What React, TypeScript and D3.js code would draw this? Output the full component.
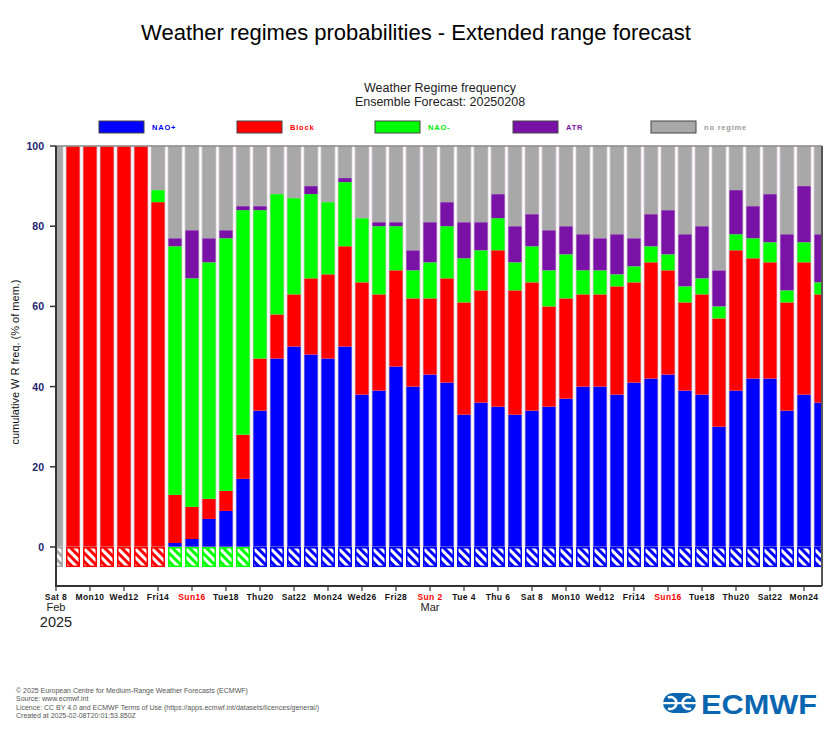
import React from "react";
import * as d3 from "d3";

// ---------- DATA ----------
const dates: string[] = [
  "2025-02-08","2025-02-09","2025-02-10","2025-02-11","2025-02-12","2025-02-13","2025-02-14",
  "2025-02-15","2025-02-16","2025-02-17","2025-02-18","2025-02-19","2025-02-20","2025-02-21",
  "2025-02-22","2025-02-23","2025-02-24","2025-02-25","2025-02-26","2025-02-27","2025-02-28",
  "2025-03-01","2025-03-02","2025-03-03","2025-03-04","2025-03-05","2025-03-06","2025-03-07",
  "2025-03-08","2025-03-09","2025-03-10","2025-03-11","2025-03-12","2025-03-13","2025-03-14",
  "2025-03-15","2025-03-16","2025-03-17","2025-03-18","2025-03-19","2025-03-20","2025-03-21",
  "2025-03-22","2025-03-23","2025-03-24","2025-03-25",
];

const naoPlus: number[] = [
  0, 0, 0, 0, 0, 0, 0, 1, 2, 7, 9, 17, 34, 47, 50, 48, 47, 50, 38, 39, 45, 40, 43,
  41, 33, 36, 35, 33, 34, 35, 37, 40, 40, 38, 41, 42, 43, 39, 38, 30, 39, 42, 42, 34, 38, 36,
];
const block: number[] = [
  0, 100, 100, 100, 100, 100, 86, 12, 8, 5, 5, 11, 13, 11, 13, 19, 21, 25, 28, 24, 24, 22, 19,
  26, 28, 28, 39, 31, 32, 25, 25, 23, 23, 27, 25, 29, 26, 22, 25, 27, 35, 30, 29, 27, 33, 27,
];
const naoMinus: number[] = [
  0, 0, 0, 0, 0, 0, 3, 62, 57, 59, 63, 56, 37, 30, 24, 21, 18, 16, 16, 17, 11, 7, 9,
  13, 11, 10, 8, 7, 9, 9, 11, 6, 6, 3, 4, 4, 4, 4, 4, 3, 4, 5, 5, 3, 5, 3,
];
const atr: number[] = [
  0, 0, 0, 0, 0, 0, 0, 2, 12, 6, 2, 1, 1, 0, 0, 2, 0, 1, 0, 1, 1, 5, 10,
  6, 9, 7, 6, 9, 8, 10, 7, 9, 8, 10, 7, 8, 11, 13, 13, 9, 11, 8, 12, 14, 14, 12,
];
// regime of the hatched strip below zero
const stripRegime: string[] = [
  "noRegime","block","block","block","block","block","block",
  "naoMinus","naoMinus","naoMinus","naoMinus","naoMinus",
  "naoPlus","naoPlus","naoPlus","naoPlus","naoPlus","naoPlus","naoPlus","naoPlus","naoPlus",
  "naoPlus","naoPlus","naoPlus","naoPlus","naoPlus","naoPlus","naoPlus","naoPlus","naoPlus",
  "naoPlus","naoPlus","naoPlus","naoPlus","naoPlus","naoPlus","naoPlus","naoPlus","naoPlus",
  "naoPlus","naoPlus","naoPlus","naoPlus","naoPlus","naoPlus","naoPlus",
];

const regimeKeys = ["naoPlus", "block", "naoMinus", "atr", "noRegime"];
const regimeLabels = ["NAO+", "Block", "NAO-", "ATR", "no regime"];
const regimeColors = ["#0000ff", "#ff0000", "#00ff00", "#7a12a8", "#a8a8a8"];
const labelColors = ["#0000ff", "#ff0000", "#00ee00", "#7a12a8", "#9a9a9a"];

const xTickLabels: string[] = [
  "Sat 8","Mon10","Wed12","Fri14","Sun16","Tue18","Thu20","Sat22","Mon24","Wed26","Fri28",
  "Sun 2","Tue 4","Thu 6","Sat 8","Mon10","Wed12","Fri14","Sun16","Tue18","Thu20","Sat22","Mon24",
];
const yTicks: number[] = [0, 20, 40, 60, 80, 100];

const footerLines: string[] = [
  "© 2025 European Centre for Medium-Range Weather Forecasts (ECMWF)",
  "Source: www.ecmwf.int",
  "Licence: CC BY 4.0 and ECMWF Terms of Use (https://apps.ecmwf.int/datasets/licences/general/)",
  "Created at 2025-02-08T20:01:53.850Z",
];

// ---------- LAYOUT ----------
const W = 833, H = 750;
const plotL = 56, plotR = 822, plotT = 146, plotB = 586;
const barW = 14;
const stripBottom = -5;

export default function App() {
  const rows = dates.map((d, i) => {
    const s = naoPlus[i] + block[i] + naoMinus[i] + atr[i];
    return { date: d, naoPlus: naoPlus[i], block: block[i], naoMinus: naoMinus[i], atr: atr[i], noRegime: 100 - s };
  });
  const stack = d3.stack<any>().keys(regimeKeys)(rows);

  const x = d3.scaleLinear().domain([0, dates.length - 1]).range([plotL, plotL + 17 * (dates.length - 1)]);
  const y = d3.scaleLinear().domain([0, 100]).range([547, plotT]);

  const colorOf = (k: string) => regimeColors[regimeKeys.indexOf(k)];
  const font = "'Liberation Sans', Arial, sans-serif";

  return (
    <svg width={W} height={H} style={{ position: "absolute", left: 0, top: 0, background: "#fff" }} fontFamily={font}>
      <defs>
        <clipPath id="plotClip">
          <rect x={plotL} y={plotT - 2} width={plotR - plotL} height={plotB - plotT + 4} />
        </clipPath>
        {regimeKeys.map((k, i) => (
          <pattern key={k} id={`hatch-${k}`} patternUnits="userSpaceOnUse" width={6} height={6} patternTransform="rotate(-45)">
            <rect x={0} y={0} width={6} height={6} fill={regimeColors[i]} />
            <rect x={0} y={0} width={3} height={6} fill="#fff" />
          </pattern>
        ))}
      </defs>

      {/* Titles */}
      <text x={416} y={40} textAnchor="middle" fontSize={22} fill="#000">
        Weather regimes probabilities - Extended range forecast
      </text>
      <text x={440} y={92} textAnchor="middle" fontSize={12.5} fill="#222">Weather Regime frequency</text>
      <text x={440} y={106} textAnchor="middle" fontSize={12.5} fill="#222">Ensemble Forecast: 20250208</text>

      {/* Legend */}
      {regimeKeys.map((k, i) => (
        <g key={k} transform={`translate(${99 + 138 * i},121)`}>
          <rect x={0} y={0} width={45} height={12} fill={regimeColors[i]} stroke="#444" strokeWidth={1} />
          <text x={53} y={9} fontSize={7.5} fontWeight="bold" letterSpacing={0.8} fill={labelColors[i]}>
            {regimeLabels[i]}
          </text>
        </g>
      ))}

      {/* Bars */}
      <g clipPath="url(#plotClip)">
        {dates.map((d, i) => {
          const cx = x(i);
          return (
            <g key={d}>
              {stack.map((layer) => {
                const seg = layer[i];
                const h = y(seg[0]) - y(seg[1]);
                if (h <= 0) return null;
                return (
                  <rect key={layer.key} x={cx - barW / 2} y={y(seg[1])} width={barW} height={h} fill={colorOf(layer.key)} />
                );
              })}
              <rect x={cx - barW / 2} y={y(100)} width={barW} height={y(0) - y(100)} fill="none" stroke="#d6c6d4" strokeWidth={0.8} />
              <rect
                x={cx - barW / 2 + 0.75}
                y={y(0) + 0.75}
                width={barW - 1.5}
                height={y(stripBottom) - y(0) - 1.5}
                fill={`url(#hatch-${stripRegime[i]})`}
                stroke={colorOf(stripRegime[i])}
                strokeWidth={1.5}
              />
            </g>
          );
        })}
      </g>

      {/* Frame */}
      <line x1={plotL} y1={plotT} x2={plotR} y2={plotT} stroke="#8a8a8a" strokeWidth={1.5} />
      <line x1={plotR} y1={plotT} x2={plotR} y2={plotB} stroke="#555" strokeWidth={2} />
      <line x1={plotL} y1={plotT} x2={plotL} y2={plotB + 1} stroke="#333" strokeWidth={2} />
      <line x1={plotL} y1={plotB} x2={plotR} y2={plotB} stroke="#333" strokeWidth={2} />

      {/* Y axis ticks */}
      {yTicks.map((t) => (
        <g key={t}>
          <line x1={plotL - 6} x2={plotL} y1={y(t)} y2={y(t)} stroke="#333" strokeWidth={1.5} />
          <text x={plotL - 12} y={y(t) + 4} textAnchor="end" fontSize={10.5} fontWeight="bold" fill="#23236e">
            {t}
          </text>
        </g>
      ))}
      <text transform={`translate(19,362) rotate(-90)`} textAnchor="middle" fontSize={11} fill="#111">
        cumulative W R freq. (% of mem.)
      </text>

      {/* X axis ticks */}
      {xTickLabels.map((lab, j) => {
        const px = x(j * 2);
        return (
          <g key={j}>
            <line x1={px} x2={px} y1={plotB} y2={plotB + 5} stroke="#333" strokeWidth={1.2} />
            <text x={px} y={600} textAnchor="middle" fontSize={8.5} fontWeight="bold" letterSpacing={0.4}
              fill={lab.startsWith("Sun") ? "#ff0000" : "#111"}>
              {lab}
            </text>
          </g>
        );
      })}
      <text x={56} y={611} textAnchor="middle" fontSize={11} fill="#222">Feb</text>
      <text x={56} y={627} textAnchor="middle" fontSize={14.5} fill="#222">2025</text>
      <text x={430} y={611} textAnchor="middle" fontSize={11} fill="#222">Mar</text>

      {/* Footer */}
      {footerLines.map((l, i) => (
        <text key={i} x={16} y={693 + i * 8.4} fontSize={7} fill="#555">{l}</text>
      ))}

      {/* ECMWF logo */}
      <g fill="#0a66b0">
        <circle cx={673} cy={703} r={10} />
        <circle cx={686} cy={703} r={10} />
        <rect x={673} y={693} width={13} height={20} />
      </g>
      <g fill="none" stroke="#fff" strokeWidth={2.6}>
        <path d="M 668 697.5 A 6 6 0 1 1 668 708.5" />
        <path d="M 691 697.5 A 6 6 0 1 0 691 708.5" />
      </g>
      <rect x={662} y={702} width={35} height={2.2} fill="#fff" />
      <text x={701} y={714} fontSize={27} fontWeight="bold" fill="#0a66b0" textLength={116} lengthAdjust="spacingAndGlyphs">
        ECMWF
      </text>
    </svg>
  );
}
